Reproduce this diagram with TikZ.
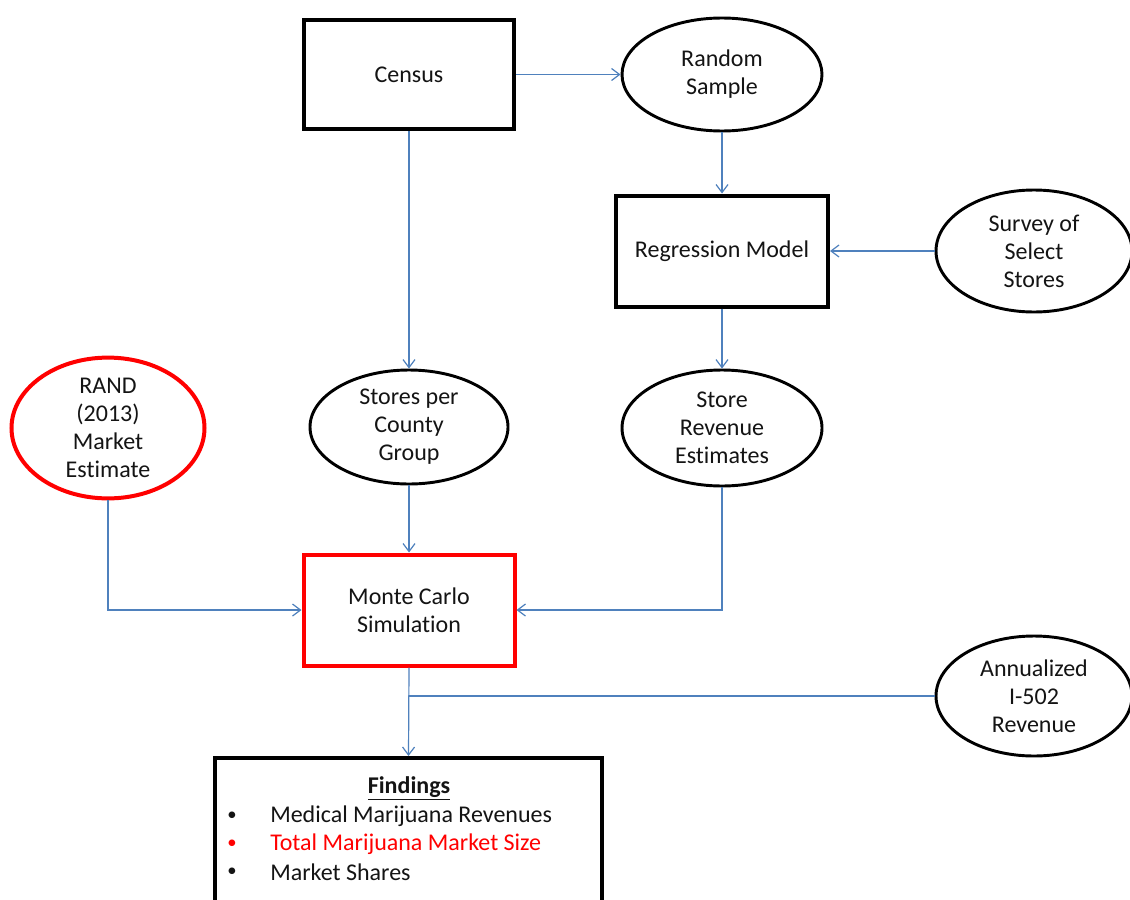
\documentclass[tikz,border=0pt]{standalone}
\usepackage{fontspec}
\setmainfont{Carlito}[Ligatures={NoCommon}]
\usetikzlibrary{shapes.geometric,arrows.meta}
\definecolor{conblue}{RGB}{79,129,189}
\definecolor{txt}{RGB}{20,20,20}
\begin{document}
\begin{tikzpicture}[x=0.75pt,y=-0.75pt,
  every node/.style={font=\fontsize{18}{21}\selectfont, text=txt, align=center, inner sep=0pt},
  boxnode/.style={draw=black, line width=3pt, rectangle},
  ovalnode/.style={draw=black, line width=2.2pt, ellipse},
  redbox/.style={draw=red, line width=3pt, rectangle},
  redoval/.style={draw=red, line width=3pt, ellipse},
  conn/.style={draw=conblue, line width=0.9pt, -{Straight Barb[length=6pt,width=9pt]}},
  plainconn/.style={draw=conblue, line width=0.9pt}]
\fill[white] (0,0) rectangle (1130,899);
\useasboundingbox (0,0) rectangle (1130,899);

\node[boxnode, minimum width=157.5pt, minimum height=81.75pt] (census) at (409,74.5) {Census};
\node[ovalnode, minimum width=150pt, minimum height=84.75pt] (rs) at (722,74.5) {Random\\Sample};
\node[boxnode, minimum width=159pt, minimum height=83.25pt] (reg) at (722,251) {Regression Model};
\node[ovalnode, minimum width=147pt, minimum height=91.5pt] (survey) at (1034,251) {Survey of\\Select\\Stores};
\node[ovalnode, minimum width=148.5pt, minimum height=85.5pt] (spc) at (409,427) {Stores per\\County\\Group};
\node[ovalnode, minimum width=150pt, minimum height=87pt] (srev) at (722,428) {Store\\Revenue\\Estimates};
\node[redoval, minimum width=144.75pt, minimum height=82.5pt] (rand) at (108,428) {RAND\\(2013)\\Market\\Estimate};
\node[redbox, minimum width=158.25pt, minimum height=83.25pt] (mc) at (409,610) {Monte Carlo\\Simulation};
\node[ovalnode, minimum width=147pt, minimum height=90pt] (annual) at (1034,696) {Annualized\\I-502\\Revenue};
\node[boxnode, minimum width=290.25pt, minimum height=110.25pt] (find) at (408.5,831.5) {};

\node (ftitle) at (409,788) {\underline{\textbf{Findings}}};
\node[font=\fontsize{14}{21}\selectfont] (b1) at (232,816) {•};
\node[font=\fontsize{14}{21}\selectfont, text=red] (b2) at (232,844) {•};
\node[font=\fontsize{14}{21}\selectfont] (b3) at (232,872) {•};
\node[anchor=west] (t1) at (270,816) {Medical Marijuana Revenues};
\node[anchor=west, text=red] (t2) at (270,844) {Total Marijuana Market Size};
\node[anchor=west] (t3) at (270,872) {Market Shares};

\draw[conn] (census.east) -- (rs.west);
\draw[conn] (rs.south) -- (reg.north);
\draw[conn] (survey.west) -- (reg.east);
\draw[conn] (reg.south) -- (srev.north);
\draw[conn] (census.south) -- (spc.north);
\draw[conn] (spc.south) -- (mc.north);
\draw[conn] (rand.south) |- (mc.west);
\draw[conn] (srev.south) |- (mc.east);
\draw[conn] (mc.south) -- (find.north);
\coordinate (join) at (mc.south |- annual.west);
\draw[plainconn] (annual.west) -- (join);
\end{tikzpicture}
\end{document}
